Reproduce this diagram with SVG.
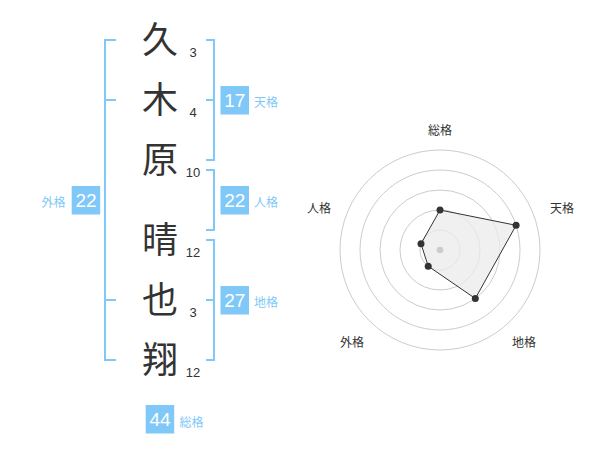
<svg xmlns="http://www.w3.org/2000/svg" width="600" height="470" viewBox="0 0 600 470">
<style>
.ch{font-family:"Noto Sans CJK JP","Noto Sans CJK SC",sans-serif;font-size:36px;fill:#333;text-anchor:middle}
.num{font-family:"Liberation Sans",Arial,sans-serif;font-size:13px;fill:#333;text-anchor:middle}
.br{fill:none;stroke:#80c8f8;stroke-width:2}
.box{fill:#80c8f8}
.bt{font-family:"Liberation Sans",Arial,sans-serif;font-size:19px;fill:#fff;text-anchor:middle}
.lb{font-family:"Noto Sans CJK JP","Noto Sans CJK SC",sans-serif;font-size:12px;fill:#80c8f8}
.rl{font-family:"Noto Sans CJK JP","Noto Sans CJK SC",sans-serif;font-size:12px;fill:#333;text-anchor:middle}
.ring{fill:none;stroke:#ccc;stroke-width:1}
.pt{fill:#333}
</style>
<rect width="600" height="470" fill="#fff"/>
<g id="chars">
<text class="ch" x="160" y="53">久</text>
<text class="ch" x="160" y="113">木</text>
<text class="ch" x="160" y="173">原</text>
<text class="ch" x="160" y="253">晴</text>
<text class="ch" x="160" y="313">也</text>
<text class="ch" x="160" y="373">翔</text>
</g>
<g id="strokes">
<text class="num" x="193" y="57">3</text>
<text class="num" x="193" y="117">4</text>
<text class="num" x="193" y="177">10</text>
<text class="num" x="193" y="257">12</text>
<text class="num" x="193" y="317">3</text>
<text class="num" x="193" y="377">12</text>
</g>
<g id="connectors">
<path class="br" d="M116,40 H105 V360 H116 M105,100 H116 M105,300 H116"/>
<path class="br" d="M206,40 H214 V160 H206 M206,100 H214"/>
<path class="br" d="M206,170 H214 V230 H206"/>
<path class="br" d="M206,240 H214 V360 H206 M206,300 H214"/>
</g>
<g id="tenkaku">
<rect class="box" x="220.5" y="86" width="28.5" height="28.5"/>
<text class="bt" x="234.7" y="107">17</text>
<text class="lb" x="254" y="107">天格</text>
</g>
<g id="jinkaku">
<rect class="box" x="220.5" y="186" width="28.5" height="28.5"/>
<text class="bt" x="234.7" y="207">22</text>
<text class="lb" x="254" y="207">人格</text>
</g>
<g id="chikaku">
<rect class="box" x="220.5" y="286" width="28.5" height="28.5"/>
<text class="bt" x="234.7" y="307">27</text>
<text class="lb" x="254" y="307">地格</text>
</g>
<g id="gaikaku">
<rect class="box" x="71.7" y="186" width="28.5" height="28.5"/>
<text class="bt" x="86" y="207">22</text>
<text class="lb" x="41.5" y="207">外格</text>
</g>
<g id="soukaku">
<rect class="box" x="145.7" y="405" width="28.5" height="28.5"/>
<text class="bt" x="160" y="426">44</text>
<text class="lb" x="179.5" y="427">総格</text>
</g>
<g id="radar">
<circle class="ring" cx="440" cy="250" r="20"/>
<circle class="ring" cx="440" cy="250" r="40"/>
<circle class="ring" cx="440" cy="250" r="60"/>
<circle class="ring" cx="440" cy="250" r="80"/>
<circle class="ring" cx="440" cy="250" r="100"/>
<polygon points="440,210 516.1,225.3 475.3,298.5 428.2,266.2 421,243.8" fill="#ebebeb" fill-opacity="0.75" stroke="#333" stroke-width="1"/>
<circle cx="440" cy="250" r="3.3" fill="#ccc"/>
<circle class="pt" cx="440" cy="210" r="3.5"/>
<circle class="pt" cx="516.1" cy="225.3" r="3.5"/>
<circle class="pt" cx="475.3" cy="298.5" r="3.5"/>
<circle class="pt" cx="428.2" cy="266.2" r="3.5"/>
<circle class="pt" cx="421" cy="243.8" r="3.5"/>
<text class="rl" x="440" y="135">総格</text>
<text class="rl" x="562" y="213">天格</text>
<text class="rl" x="524" y="347">地格</text>
<text class="rl" x="352" y="347">外格</text>
<text class="rl" x="319" y="213">人格</text>
</g>
</svg>
